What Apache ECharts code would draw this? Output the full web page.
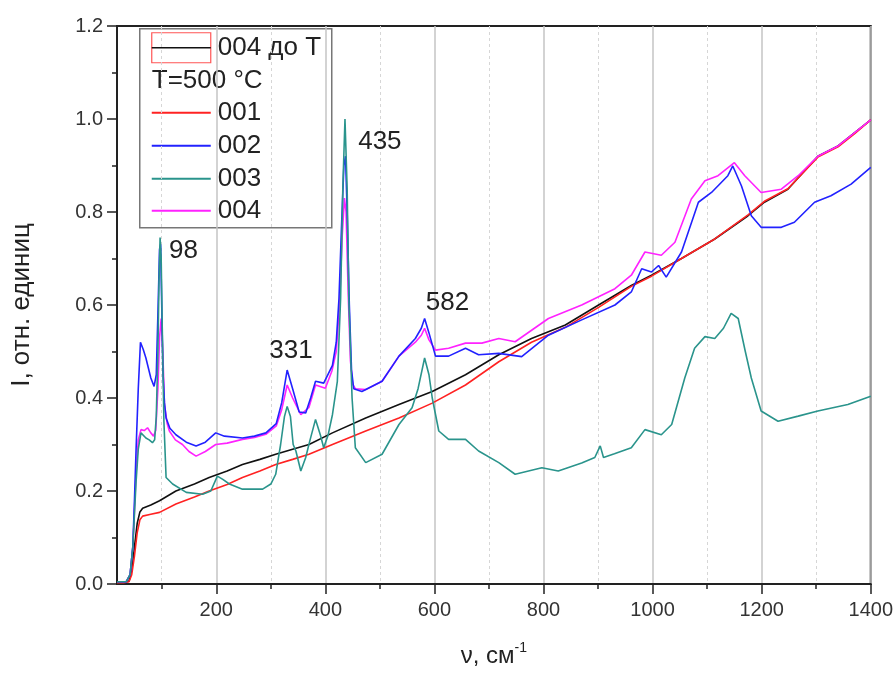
<!DOCTYPE html>
<html>
<head>
<meta charset="utf-8">
<title>Raman spectra</title>
<script src="https://cdn.jsdelivr.net/npm/echarts@6/dist/echarts.min.js"></script>
<style>
  html, body { margin: 0; padding: 0; background: #fff; }
  #chart { width: 896px; height: 673px; }
</style>
</head>
<body>
<div id="chart"></div>
<script>
// axis ticks
const xMajorTicks = [200, 400, 600, 800, 1000, 1200, 1400];
const xMinorTicks = [100, 300, 500, 700, 900, 1100, 1300];

// spectra, [wavenumber, intensity]
const s004before = [
  [18, 0.005], [30, 0.004], [40, 0.006], [45, 0.03], [50, 0.08], [55, 0.13], [60, 0.155], [65, 0.163],
  [80, 0.17], [96, 0.179], [126, 0.2], [160, 0.215], [187, 0.229], [220, 0.243], [248, 0.257], [280, 0.268],
  [309, 0.279], [340, 0.29], [370, 0.3], [413, 0.325], [474, 0.357], [535, 0.386], [596, 0.414], [657, 0.45],
  [718, 0.493], [778, 0.528], [840, 0.557], [901, 0.6], [961, 0.642], [998, 0.664], [1053, 0.7], [1114, 0.742],
  [1175, 0.792], [1205, 0.821], [1248, 0.849], [1303, 0.92], [1340, 0.942], [1370, 0.97], [1400, 0.998]
];
const s001 = [
  [18, 0.003], [30, 0.003], [40, 0.005], [45, 0.02], [50, 0.06], [55, 0.11], [60, 0.138], [65, 0.146],
  [80, 0.15], [96, 0.154], [126, 0.172], [160, 0.187], [187, 0.2], [220, 0.214], [248, 0.229], [280, 0.243],
  [309, 0.257], [340, 0.268], [370, 0.279], [413, 0.3], [474, 0.329], [535, 0.357], [596, 0.389], [657, 0.428],
  [718, 0.478], [778, 0.52], [840, 0.552], [901, 0.595], [961, 0.64], [998, 0.662], [1053, 0.7], [1114, 0.742],
  [1175, 0.794], [1205, 0.823], [1248, 0.85], [1303, 0.918], [1340, 0.94], [1370, 0.968], [1400, 0.998]
];
const s002 = [
  [18, 0.005], [35, 0.005], [42, 0.02], [47, 0.08], [50, 0.18], [53, 0.29], [57, 0.42], [61, 0.52],
  [66, 0.505], [71, 0.486], [80, 0.443], [86, 0.425], [90, 0.45], [93, 0.58], [96, 0.72], [98, 0.73],
  [100, 0.6], [102, 0.464], [105, 0.39], [108, 0.357], [115, 0.335], [126, 0.321], [145, 0.305], [163, 0.297],
  [180, 0.305], [199, 0.325], [215, 0.318], [248, 0.314], [270, 0.318], [291, 0.325], [310, 0.345], [320, 0.39],
  [330, 0.46], [340, 0.42], [352, 0.37], [364, 0.368], [373, 0.4], [382, 0.436], [397, 0.432], [413, 0.47],
  [420, 0.52], [425, 0.614], [430, 0.78], [434, 0.9], [437, 0.92], [440, 0.8], [444, 0.6], [448, 0.46],
  [452, 0.42], [467, 0.414], [504, 0.436], [535, 0.49], [565, 0.528], [576, 0.55], [582, 0.571], [590, 0.54],
  [602, 0.49], [626, 0.49], [657, 0.507], [681, 0.493], [718, 0.496], [760, 0.489], [809, 0.535], [870, 0.568],
  [931, 0.6], [961, 0.628], [980, 0.678], [998, 0.671], [1011, 0.685], [1025, 0.66], [1053, 0.714], [1084, 0.821],
  [1108, 0.842], [1138, 0.878], [1147, 0.899], [1163, 0.856], [1181, 0.792], [1199, 0.767], [1236, 0.767], [1260, 0.778],
  [1297, 0.821], [1327, 0.835], [1364, 0.86], [1400, 0.896]
];
const s003 = [
  [18, 0.005], [35, 0.005], [42, 0.02], [47, 0.08], [50, 0.15], [53, 0.22], [57, 0.29], [62, 0.325],
  [71, 0.314], [77, 0.31], [83, 0.304], [87, 0.31], [90, 0.36], [93, 0.5], [95, 0.65], [97, 0.745],
  [99, 0.7], [101, 0.55], [104, 0.35], [108, 0.229], [120, 0.215], [145, 0.197], [175, 0.193], [190, 0.2],
  [202, 0.232], [212, 0.225], [224, 0.215], [248, 0.204], [285, 0.204], [300, 0.215], [309, 0.236], [318, 0.3],
  [325, 0.36], [330, 0.382], [336, 0.36], [341, 0.3], [346, 0.286], [355, 0.243], [364, 0.272], [372, 0.31],
  [382, 0.354], [391, 0.32], [397, 0.293], [405, 0.32], [413, 0.364], [422, 0.436], [428, 0.614], [432, 0.85],
  [436, 1.0], [440, 0.85], [443, 0.614], [449, 0.4], [455, 0.293], [474, 0.261], [504, 0.279], [535, 0.343],
  [559, 0.379], [570, 0.42], [582, 0.486], [590, 0.45], [596, 0.4], [608, 0.329], [626, 0.311], [657, 0.311],
  [681, 0.286], [718, 0.261], [748, 0.236], [797, 0.25], [827, 0.243], [870, 0.26], [894, 0.272], [904, 0.297],
  [910, 0.272], [930, 0.28], [961, 0.293], [986, 0.332], [1016, 0.321], [1035, 0.343], [1059, 0.443], [1077, 0.507],
  [1096, 0.532], [1114, 0.528], [1130, 0.55], [1144, 0.582], [1157, 0.571], [1170, 0.5], [1181, 0.443], [1199, 0.372],
  [1230, 0.35], [1267, 0.361], [1303, 0.372], [1358, 0.386], [1400, 0.404]
];
const s004 = [
  [18, 0.005], [35, 0.005], [42, 0.02], [47, 0.08], [50, 0.16], [53, 0.24], [57, 0.31], [62, 0.332],
  [68, 0.33], [74, 0.336], [80, 0.325], [85, 0.318], [89, 0.33], [93, 0.42], [96, 0.53], [99, 0.571],
  [102, 0.5], [105, 0.386], [110, 0.345], [114, 0.329], [125, 0.31], [138, 0.3], [150, 0.285], [163, 0.275],
  [180, 0.285], [199, 0.3], [220, 0.303], [248, 0.311], [270, 0.315], [291, 0.322], [310, 0.34], [320, 0.375],
  [330, 0.428], [340, 0.4], [355, 0.364], [370, 0.38], [382, 0.428], [400, 0.421], [412, 0.458], [420, 0.5],
  [426, 0.6], [431, 0.75], [435, 0.83], [438, 0.8], [442, 0.62], [446, 0.48], [450, 0.43], [455, 0.42],
  [474, 0.418], [504, 0.436], [535, 0.49], [565, 0.52], [576, 0.535], [582, 0.55], [590, 0.525], [602, 0.503],
  [626, 0.507], [657, 0.518], [687, 0.518], [718, 0.528], [748, 0.521], [809, 0.571], [870, 0.6], [931, 0.635],
  [961, 0.664], [986, 0.714], [1016, 0.707], [1041, 0.735], [1071, 0.828], [1096, 0.867], [1120, 0.878], [1150, 0.906],
  [1169, 0.878], [1199, 0.842], [1236, 0.849], [1267, 0.878], [1303, 0.92], [1340, 0.942], [1370, 0.97], [1400, 0.998]
];

// peak annotations
const peakNames = ['98', '331', '435', '582'];
const peakX = [140, 337, 500, 624];
const peakY = [0.717, 0.502, 0.951, 0.605];

const FONT = "'Liberation Sans', Arial, sans-serif";
const chart = echarts.init(document.getElementById('chart'));

function lineSeries(name, data, color) {
  return {
    name: name,
    type: 'line',
    data: data,
    showSymbol: false,
    symbol: 'none',
    lineStyle: { color: color, width: 1.6 },
    itemStyle: { color: color },
    silent: true
  };
}

const option = {
  animation: false,
  grid: {
    left: 117, right: 23, top: 26, bottom: 86,
    containLabel: false,
    show: true,
    borderColor: '#222',
    borderWidth: 2,
    backgroundColor: 'transparent'
  },
  xAxis: [
    {
      type: 'value',
      min: 18,
      max: 1400,
      name: '{m|ν, см}{s|-1}',
      nameLocation: 'middle',
      nameGap: 57,
      nameTextStyle: {
        rich: {
          m: { fontFamily: FONT, fontSize: 24, color: '#222', lineHeight: 30 },
          s: { fontFamily: FONT, fontSize: 14, color: '#222', verticalAlign: 'top', lineHeight: 14 }
        }
      },
      axisLine: { show: true, lineStyle: { color: '#222', width: 2 } },
      axisTick: { show: true, inside: false, length: 10, customValues: xMajorTicks, lineStyle: { color: '#222', width: 1.5 } },
      axisLabel: {
        customValues: xMajorTicks, fontFamily: FONT, fontSize: 20, color: '#333', margin: 16,
        formatter: v => String(v)
      },
      splitLine: { show: true, lineStyle: { color: '#c4c4c4', width: 1.5 } }
    },
    {
      type: 'value',
      min: 18,
      max: 1400,
      position: 'bottom',
      axisLine: { show: false },
      axisTick: { show: true, inside: false, length: 5, customValues: xMinorTicks, lineStyle: { color: '#222', width: 1.5 } },
      axisLabel: { show: false, customValues: xMinorTicks },
      splitLine: { show: true, lineStyle: { color: '#d6d6d6', width: 1, type: [3, 3] } }
    }
  ],
  yAxis: {
    type: 'value',
    min: 0,
    max: 1.2,
    interval: 0.2,
    name: 'I, отн. единиц',
    nameLocation: 'middle',
    nameRotate: 90,
    nameGap: 82,
    nameTextStyle: { fontFamily: FONT, fontSize: 26, color: '#222' },
    axisLine: { show: true, lineStyle: { color: '#222', width: 2 } },
    axisTick: { show: true, inside: false, length: 10, lineStyle: { color: '#222', width: 1.5 } },
    minorTick: { show: true, splitNumber: 2, length: 5, lineStyle: { color: '#222', width: 1.5 } },
    axisLabel: {
      fontFamily: FONT, fontSize: 20, color: '#333', margin: 14,
      formatter: v => v.toFixed(1)
    },
    splitLine: { show: false }
  },
  series: [
    lineSeries('004 до T', s004before, '#111111'),
    lineSeries('001', s001, '#ff2222'),
    lineSeries('004', s004, '#ff22ff'),
    lineSeries('002', s002, '#2222ff'),
    lineSeries('003', s003, '#2a948c'),
    {
      name: 'peaks',
      type: 'scatter',
      symbolSize: 0,
      silent: true,
      itemStyle: { opacity: 1 },
      data: peakNames.map((n, i) => ({ name: n, value: [peakX[i], peakY[i]] })),
      label: {
        show: true,
        position: 'inside',
        formatter: p => p.name,
        fontFamily: FONT,
        fontSize: 26,
        color: '#222',
        opacity: 1
      }
    }
  ],
  graphic: [
    {
      type: 'group',
      left: 139,
      top: 28,
      children: [
        { type: 'rect', shape: { x: 0, y: 0, width: 192, height: 199 },
          style: { fill: '#fff', stroke: '#777', lineWidth: 1.5 } },
        { type: 'rect', shape: { x: 12, y: 4, width: 59, height: 30 },
          style: { fill: 'none', stroke: '#ff5555', lineWidth: 1.2 } },
        { type: 'line', shape: { x1: 12, y1: 19, x2: 71, y2: 19 }, style: { stroke: '#111', lineWidth: 1.6 } },
        { type: 'text', x: 78, y: 19, style: { text: '004 до T', font: '26px ' + FONT, fill: '#222', verticalAlign: 'middle' } },
        { type: 'text', x: 12, y: 52, style: { text: 'T=500 °C', font: '26px ' + FONT, fill: '#222', verticalAlign: 'middle' } },
        { type: 'line', shape: { x1: 12, y1: 84, x2: 71, y2: 84 }, style: { stroke: '#ff2222', lineWidth: 2 } },
        { type: 'text', x: 78, y: 84, style: { text: '001', font: '26px ' + FONT, fill: '#222', verticalAlign: 'middle' } },
        { type: 'line', shape: { x1: 12, y1: 117, x2: 71, y2: 117 }, style: { stroke: '#2222ff', lineWidth: 2 } },
        { type: 'text', x: 78, y: 117, style: { text: '002', font: '26px ' + FONT, fill: '#222', verticalAlign: 'middle' } },
        { type: 'line', shape: { x1: 12, y1: 150, x2: 71, y2: 150 }, style: { stroke: '#2a948c', lineWidth: 2 } },
        { type: 'text', x: 78, y: 150, style: { text: '003', font: '26px ' + FONT, fill: '#222', verticalAlign: 'middle' } },
        { type: 'line', shape: { x1: 12, y1: 182, x2: 71, y2: 182 }, style: { stroke: '#ff22ff', lineWidth: 2 } },
        { type: 'text', x: 78, y: 182, style: { text: '004', font: '26px ' + FONT, fill: '#222', verticalAlign: 'middle' } }
      ]
    }
  ]
};

chart.setOption(option);
</script>
</body>
</html>
